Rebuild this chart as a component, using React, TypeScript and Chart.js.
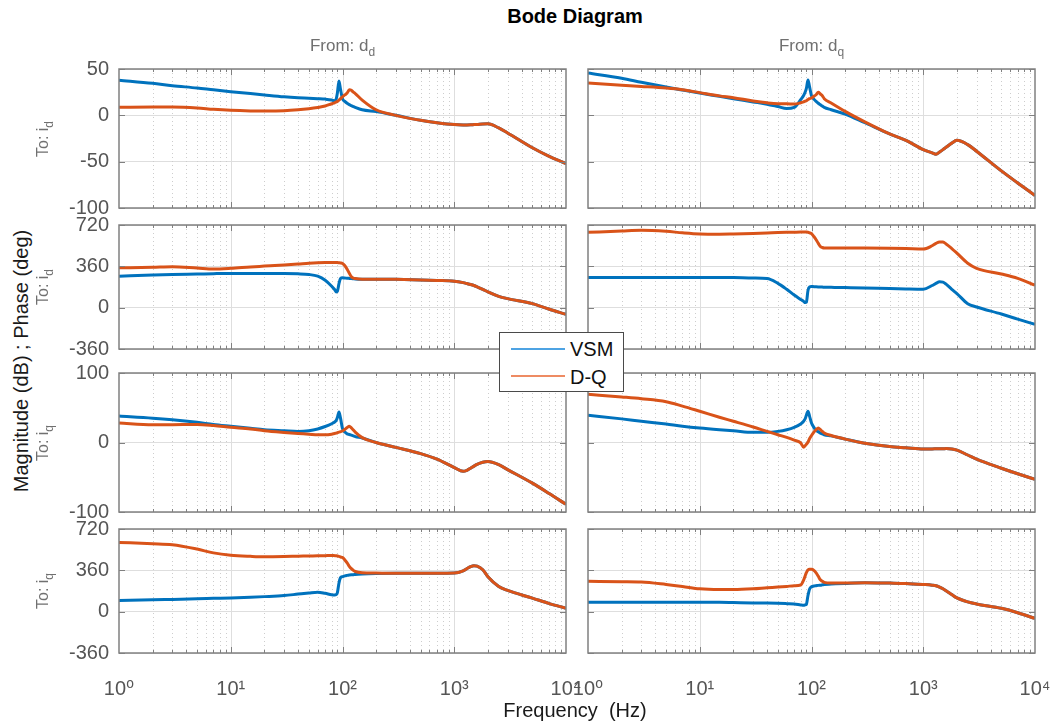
import React, { useEffect, useRef } from 'react';
import { Chart, registerables } from 'chart.js';

Chart.register(...registerables);

// ---------- data ----------
const FREQ_HZ = [1, 2, 3, 5, 7, 10, 15, 20, 30, 40, 50, 60, 70, 80, 85, 88, 90, 93, 96, 100, 105, 110, 115, 120, 125, 130, 150, 200, 300, 500, 700, 1000, 1200, 1300, 1400, 1500, 1600, 1800, 2000, 2500, 3000, 5000, 7000, 10000];

const SERIES_NAMES = ['VSM', 'D-Q'];
const X_TICKS = [1, 10, 100, 1000, 10000];
const X_TICK_LABELS = ['10⁰', '10¹', '10²', '10³', '10⁴'];
const MAG_TICKS_ROW1 = [-100, -50, 0, 50];
const MAG_TICKS_ROW3 = [-100, 0, 100];
const PHASE_TICKS = [-360, 0, 360, 720];

// From d_d
const MAG_ID_DD_VSM = [38, 34.5, 32, 29.5, 27.5, 25.5, 23.5, 22, 20, 19, 18.5, 18, 17.5, 16.5, 15.5, 18, 24, 37, 28, 18, 15, 13, 11.5, 10.5, 9.5, 8.6, 6, 4, 0, -5.4, -8, -10, -10.3, -10.3, -10.2, -10, -9.8, -9.3, -9.2, -13.6, -19, -35, -44, -52];
const MAG_ID_DD_DQ = [8.6, 9, 9, 8, 6.5, 5.4, 4.8, 4.7, 5, 6, 7.2, 8.5, 10, 12.5, 13.5, 14.5, 15, 16.5, 18, 20, 22, 24, 27.5, 27, 25, 23.5, 16.5, 6, 0, -5.4, -8, -10, -10.3, -10.3, -10.2, -10, -9.8, -9.3, -9.2, -13.6, -19, -35, -44, -52];
const PHASE_ID_DD_VSM = [274, 284, 289, 293, 296, 298, 298, 298, 298, 295, 289, 274, 239, 187, 158, 137, 143, 210, 254, 260, 258, 256, 255, 254, 252, 250, 248, 248, 247, 242, 237, 230, 218, 210, 202, 193, 182, 160, 137, 99, 79, 35, -12, -58];
const PHASE_ID_DD_DQ = [347, 352, 356, 345, 337, 343, 355, 362, 372, 380, 387, 391, 393, 394, 394, 394, 393, 391, 389, 385, 365, 335, 300, 270, 258, 254, 248, 248, 247, 242, 237, 230, 218, 210, 202, 193, 182, 160, 137, 99, 79, 35, -12, -58];
const MAG_IQ_DD_VSM = [38, 35, 32.7, 29, 26, 23.4, 20.5, 18.5, 17, 16, 17, 19.5, 23, 27, 29.5, 32, 36, 44, 35, 20, 15, 12.5, 11.5, 10.5, 9.5, 8.5, 6.5, 0, -7, -16, -24, -36, -41.5, -40, -37, -34, -31.5, -28.5, -27.5, -32, -39, -58.5, -73, -89];
const MAG_IQ_DD_DQ = [28, 25.4, 25.5, 26, 24.5, 22, 19.5, 17, 14.5, 13, 12, 11, 11, 12, 13, 13.5, 14, 15, 15.5, 16.5, 19, 21.5, 23.4, 21, 18, 15, 7, 0, -7, -16, -24, -36, -41.5, -40, -37, -34, -31.5, -28.5, -27.5, -32, -39, -58.5, -73, -89];
const PHASE_IQ_DD_VSM = [97, 103, 107, 112, 116, 120, 126, 131, 140, 153, 163, 170, 160, 148, 146, 149, 165, 250, 296, 305, 312, 316, 319, 321, 322, 324, 328, 332, 334, 334, 334, 336, 355, 375, 392, 400, 396, 365, 305, 220, 185, 118, 72, 30];
const PHASE_IQ_DD_DQ = [603, 592, 583, 545, 512, 492, 482, 478, 480, 483, 485, 487, 488, 489, 488, 487, 485, 481, 476, 471, 450, 425, 395, 375, 360, 350, 339, 336, 334, 334, 334, 336, 355, 375, 392, 400, 396, 365, 305, 220, 185, 118, 72, 30];

// From d_q
const MAG_ID_DQ_VSM = [45.6, 40, 35.7, 30.5, 27.3, 24, 20.5, 18, 14.5, 12, 9.5, 7.4, 8.6, 16.9, 21.5, 25.5, 29, 38, 31, 21, 17.5, 15, 13, 11.5, 10, 8.6, 6, 1.4, -8, -20, -27, -37, -40.5, -42, -39.5, -37, -34.5, -30, -27, -31.6, -38.7, -60, -73, -86.5];
const MAG_ID_DQ_DQ = [34.8, 32.5, 31.2, 29.4, 27.6, 24.5, 21, 19, 15.5, 13.5, 12.5, 12.4, 12.2, 13.6, 14.6, 15.3, 15.8, 17, 18, 18.7, 20.5, 22.2, 24.8, 23, 21.2, 18, 13.3, 4.3, -7, -20, -27, -37, -40.5, -42, -39.5, -37, -34.5, -30, -27, -31.6, -38.7, -60, -73, -86.5];
const PHASE_ID_DQ_VSM = [263, 263, 263, 263, 263, 263, 263, 262, 258, 254, 212, 160, 110, 72, 55, 44, 47, 150, 180, 184, 183, 182, 181, 180, 179, 178, 177, 175, 172, 166, 163, 161, 193, 212, 225, 222, 205, 160, 123, 35, 6, -55, -100, -146];
const PHASE_ID_DQ_DQ = [656, 668, 674, 665, 652, 642, 640, 642, 646, 650, 654, 656, 657, 658, 659, 659, 659, 657, 652, 645, 620, 592, 560, 533, 524, 520, 519, 519, 519, 518, 515, 510, 539, 560, 572, 571, 555, 515, 475, 387, 343, 293, 255, 196];
const MAG_IQ_DQ_VSM = [39.3, 34, 30.6, 26.5, 23.5, 20.9, 18.5, 17, 14.6, 14.6, 16, 18.4, 21.8, 26.7, 30.6, 34.5, 39.3, 45, 38, 28, 21.8, 17.5, 15.5, 13.6, 12.5, 11.2, 9.5, 4.9, -1, -5.8, -7.5, -9.2, -9.2, -9.1, -9, -9, -8.8, -9.3, -11, -18, -24, -37, -45, -53];
const MAG_IQ_DQ_DQ = [69.4, 65.5, 63, 58.7, 52.4, 45, 36.4, 30.6, 22.3, 16, 11.2, 7.3, 3.4, -0.5, -6.8, -4.4, -2.5, 0.5, 5.3, 10, 15, 18.4, 21, 18.4, 16, 13.6, 10, 4.9, -1, -5.8, -7.5, -9.2, -9.2, -9.1, -9, -9, -8.8, -9.3, -11, -18, -24, -37, -45, -53];
const PHASE_IQ_DQ_VSM = [82, 82, 82, 82, 82, 82, 81, 79, 76, 75, 73, 70, 67, 59, 56, 59, 64, 141, 196, 217, 223, 226, 229, 231, 234, 237, 240, 246, 252, 249, 246, 237, 231, 226, 214, 199, 182, 149, 120, 85, 67, 29, -9, -59];
const PHASE_IQ_DQ_DQ = [264, 261, 258, 237, 220, 199, 193, 193, 199, 208, 214, 220, 226, 232, 275, 315, 340, 363, 369, 369, 360, 337, 308, 278, 264, 255, 249, 249, 252, 249, 246, 237, 231, 226, 214, 199, 182, 149, 120, 85, 67, 29, -9, -59];

// ---------- style / layout ----------
const FONT = "'Liberation Sans', Arial, Helvetica, 'DejaVu Sans', sans-serif";
const BLUE = '#0072BD';
const ORANGE = '#D95319';
const TICK_COLOR = '#555555';
const SUB_COLOR = '#707070';
const FRAME_COLOR = '#808080';
const MAJOR_GRID = '#dedede';
const MINOR_GRID = '#cdcdcd';

const COLS = [{ left: 119, width: 447 }, { left: 588, width: 447 }];
const ROWS = [{ top: 69, height: 139 }, { top: 225, height: 124 }, { top: 373, height: 139 }, { top: 529, height: 124 }];

const PANELS = [
  { row: 0, col: 0, vsm: MAG_ID_DD_VSM, dq: MAG_ID_DD_DQ, min: -100, max: 50, ticks: MAG_TICKS_ROW1 },
  { row: 1, col: 0, vsm: PHASE_ID_DD_VSM, dq: PHASE_ID_DD_DQ, min: -360, max: 720, ticks: PHASE_TICKS },
  { row: 2, col: 0, vsm: MAG_IQ_DD_VSM, dq: MAG_IQ_DD_DQ, min: -100, max: 100, ticks: MAG_TICKS_ROW3 },
  { row: 3, col: 0, vsm: PHASE_IQ_DD_VSM, dq: PHASE_IQ_DD_DQ, min: -360, max: 720, ticks: PHASE_TICKS },
  { row: 0, col: 1, vsm: MAG_ID_DQ_VSM, dq: MAG_ID_DQ_DQ, min: -100, max: 50, ticks: MAG_TICKS_ROW1 },
  { row: 1, col: 1, vsm: PHASE_ID_DQ_VSM, dq: PHASE_ID_DQ_DQ, min: -360, max: 720, ticks: PHASE_TICKS },
  { row: 2, col: 1, vsm: MAG_IQ_DQ_VSM, dq: MAG_IQ_DQ_DQ, min: -100, max: 100, ticks: MAG_TICKS_ROW3 },
  { row: 3, col: 1, vsm: PHASE_IQ_DQ_VSM, dq: PHASE_IQ_DQ_DQ, min: -360, max: 720, ticks: PHASE_TICKS },
];

const framePlugin = {
  id: 'bodeFrame',
  beforeDatasetsDraw(chart: any) {
    const { ctx, chartArea: a } = chart;
    const x = chart.scales.x;
    ctx.save();
    ctx.lineWidth = 1;
    for (let d = 0; d < 4; d++) {
      for (let k = 1; k <= 9; k++) {
        const v = k * Math.pow(10, d);
        if (v <= 1) continue;
        const px = Math.round(x.getPixelForValue(v)) + 0.5;
        if (k === 1) { ctx.setLineDash([]); ctx.strokeStyle = MAJOR_GRID; }
        else { ctx.setLineDash([1, 3]); ctx.strokeStyle = MINOR_GRID; }
        ctx.beginPath();
        ctx.moveTo(px, a.top);
        ctx.lineTo(px, a.bottom);
        ctx.stroke();
      }
    }
    ctx.restore();
  },
  afterDatasetsDraw(chart: any) {
    const { ctx, chartArea: a } = chart;
    const x = chart.scales.x, y = chart.scales.y;
    ctx.save();
    ctx.setLineDash([]);
    ctx.strokeStyle = FRAME_COLOR;
    ctx.lineWidth = 1;
    ctx.beginPath();
    for (let d = 0; d < 4; d++) {
      for (let k = 1; k <= 9; k++) {
        const v = k * Math.pow(10, d);
        if (v <= 1) continue;
        const px = Math.round(x.getPixelForValue(v)) + 0.5;
        const len = k === 1 ? 6 : 3;
        ctx.moveTo(px, a.bottom); ctx.lineTo(px, a.bottom - len);
        ctx.moveTo(px, a.top); ctx.lineTo(px, a.top + len);
      }
    }
    for (const t of y.ticks) {
      const py = Math.round(y.getPixelForValue(t.value)) + 0.5;
      ctx.moveTo(a.left, py); ctx.lineTo(a.left + 6, py);
      ctx.moveTo(a.right, py); ctx.lineTo(a.right - 6, py);
    }
    ctx.stroke();
    ctx.lineWidth = 1.5;
    ctx.strokeRect(a.left, a.top, a.right - a.left, a.bottom - a.top);
    ctx.restore();
  },
};

function BodePanel({ p }: { p: any }) {
  const ref = useRef<HTMLCanvasElement>(null);
  const col = COLS[p.col];
  const row = ROWS[p.row];
  const isLeft = p.col === 0;
  const isBottom = p.row === 3;
  const YW = isLeft ? 70 : 40;
  const PT = 28;
  const PB = isBottom ? 0 : 28;
  const XH = isBottom ? 50 : 0;
  const PR = isBottom ? 44 : 4;
  const W = YW + col.width + PR;
  const H = PT + row.height + PB + XH;

  useEffect(() => {
    const mk = (vals: number[]) => FREQ_HZ.map((f, i) => ({ x: f, y: vals[i] }));
    const chart = new Chart(ref.current as HTMLCanvasElement, {
      type: 'line',
      data: {
        datasets: [
          { label: SERIES_NAMES[0], order: 2, data: mk(p.vsm), borderColor: BLUE, backgroundColor: BLUE, borderWidth: 3, pointRadius: 0, fill: false, cubicInterpolationMode: 'monotone' },
          { label: SERIES_NAMES[1], order: 1, data: mk(p.dq), borderColor: ORANGE, backgroundColor: ORANGE, borderWidth: 3, pointRadius: 0, fill: false, cubicInterpolationMode: 'monotone' },
        ],
      },
      options: {
        responsive: false,
        maintainAspectRatio: false,
        animation: false,
        events: [],
        layout: { padding: { left: 0, right: PR, top: PT, bottom: PB } },
        plugins: { legend: { display: false }, tooltip: { enabled: false }, title: { display: false } },
        scales: {
          x: {
            type: 'logarithmic',
            min: 1,
            max: 10000,
            grid: { display: false },
            border: { display: false },
            afterBuildTicks: (s: any) => { s.ticks = X_TICKS.map((v) => ({ value: v })); },
            afterFit: (s: any) => { s.height = XH; },
            ticks: {
              display: isBottom,
              autoSkip: false,
              maxRotation: 0,
              padding: 16,
              color: TICK_COLOR,
              font: { family: FONT, size: 20 },
              callback: (v: any) => X_TICK_LABELS[X_TICKS.indexOf(Number(v))] ?? '',
            },
          },
          y: {
            type: 'linear',
            min: p.min,
            max: p.max,
            grid: { color: MAJOR_GRID, lineWidth: 1, drawTicks: false },
            border: { display: false },
            afterBuildTicks: (s: any) => { s.ticks = p.ticks.map((v: number) => ({ value: v })); },
            afterFit: (s: any) => { s.width = YW; },
            ticks: {
              display: isLeft,
              padding: 10,
              color: TICK_COLOR,
              font: { family: FONT, size: 20 },
              callback: (v: any) => String(v),
            },
          },
        },
      } as any,
      plugins: [framePlugin],
    } as any);
    return () => chart.destroy();
  }, []);

  return (
    <canvas
      ref={ref}
      width={W}
      height={H}
      style={{ position: 'absolute', left: col.left - YW, top: row.top - PT, width: W, height: H }}
    />
  );
}

function Txt({ x, baseline, size, color, bold, children, w = 400 }: any) {
  return (
    <div style={{ position: 'absolute', left: x - w / 2, top: baseline - 0.8465 * size, width: w, height: size, lineHeight: size + 'px', fontSize: size, fontFamily: FONT, fontWeight: bold ? 'bold' : 'normal', color, textAlign: 'center', whiteSpace: 'pre', zIndex: 5 }}>
      {children}
    </div>
  );
}

function RotTxt({ cx, cy, size, color, children }: any) {
  const w = 400;
  return (
    <div style={{ position: 'absolute', left: cx - w / 2, top: cy - size / 2, width: w, height: size, lineHeight: size + 'px', fontSize: size, fontFamily: FONT, color, textAlign: 'center', whiteSpace: 'pre', transform: 'rotate(-90deg)', zIndex: 5 }}>
      {children}
    </div>
  );
}

const Sub = ({ c, size }: any) => (
  <span style={{ fontSize: size, position: 'relative', top: Math.round(size * 0.45) }}>{c}</span>
);

export default function App() {
  return (
    <div style={{ position: 'absolute', left: 0, top: 0, width: 1054, height: 726, overflow: 'hidden', background: '#ffffff', fontFamily: FONT }}>
      {PANELS.map((p, i) => <BodePanel key={i} p={p} />)}

      <Txt x={575} baseline={22.7} size={20} color="#000" bold>Bode Diagram</Txt>
      <Txt x={342.5} baseline={51.7} size={17} color={SUB_COLOR}>From: d<Sub c="d" size={12} /></Txt>
      <Txt x={811.5} baseline={51.7} size={17} color={SUB_COLOR}>From: d<Sub c="q" size={12} /></Txt>
      <Txt x={575} baseline={716.7} size={20} color="#1a1a1a">Frequency  (Hz)</Txt>

      <RotTxt cx={21} cy={361} size={20} color="#1a1a1a">Magnitude (dB) ; Phase (deg)</RotTxt>
      <RotTxt cx={43} cy={ROWS[0].top + ROWS[0].height / 2} size={16} color={SUB_COLOR}>To: i<Sub c="d" size={12} /></RotTxt>
      <RotTxt cx={43} cy={ROWS[1].top + ROWS[1].height / 2} size={16} color={SUB_COLOR}>To: i<Sub c="d" size={12} /></RotTxt>
      <RotTxt cx={43} cy={ROWS[2].top + ROWS[2].height / 2} size={16} color={SUB_COLOR}>To: i<Sub c="q" size={12} /></RotTxt>
      <RotTxt cx={43} cy={ROWS[3].top + ROWS[3].height / 2} size={16} color={SUB_COLOR}>To: i<Sub c="q" size={12} /></RotTxt>

      <div style={{ position: 'absolute', left: 499, top: 332, width: 125, height: 60, boxSizing: 'border-box', border: '1.5px solid #4a4a4a', background: '#ffffff', zIndex: 10 }}>
        <div style={{ position: 'absolute', left: 11, top: 14.5, width: 54, height: 2, background: '#4ea3e3' }} />
        <div style={{ position: 'absolute', left: 11, top: 42, width: 54, height: 2, background: '#ee8b63' }} />
        <div style={{ position: 'absolute', left: 70, top: 23 - 16.9, height: 20, lineHeight: '20px', fontSize: 20, fontFamily: FONT, color: '#111', whiteSpace: 'pre' }}>{SERIES_NAMES[0]}</div>
        <div style={{ position: 'absolute', left: 70, top: 50.5 - 16.9, height: 20, lineHeight: '20px', fontSize: 20, fontFamily: FONT, color: '#111', whiteSpace: 'pre' }}>{SERIES_NAMES[1]}</div>
      </div>
    </div>
  );
}
